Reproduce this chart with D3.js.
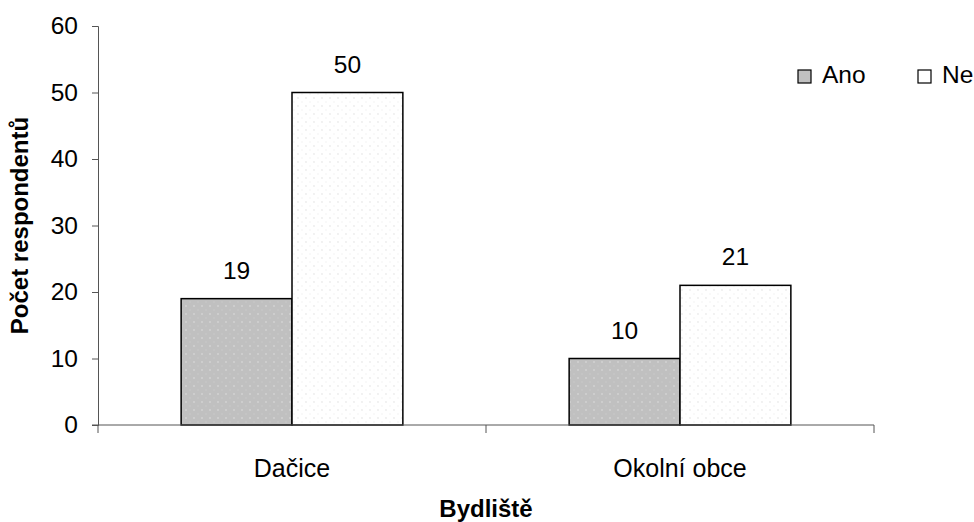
<!DOCTYPE html>
<html><head><meta charset="utf-8">
<script src="https://cdn.jsdelivr.net/npm/d3@7/dist/d3.min.js"></script>
<style>body{margin:0;background:#fff}svg{display:block}</style>
</head><body>
<script>
const categories = ["Dačice", "Okolní obce"];
const seriesNames = ["Ano", "Ne"];
const ano = [19, 10];
const ne = [50, 21];
const yTicks = [0, 10, 20, 30, 40, 50, 60];

const W = 974, H = 522;
const m = {left: 98, right: 100, top: 26, bottom: 97};
const svg = d3.select("body").append("svg").attr("width", W).attr("height", H);
const font = "'Liberation Sans', Arial, sans-serif";
const fs = 24.5;

const defs = svg.append("defs");
const p1 = defs.append("pattern").attr("id","pAno").attr("patternUnits","userSpaceOnUse").attr("width",8).attr("height",8);
p1.append("rect").attr("width",8).attr("height",8).attr("fill","#c0c0c0");
p1.append("circle").attr("cx",2).attr("cy",2).attr("r",1).attr("fill","#d2d2d2");
p1.append("circle").attr("cx",6).attr("cy",6).attr("r",0.8).attr("fill","#cacaca");
const p2 = defs.append("pattern").attr("id","pNe").attr("patternUnits","userSpaceOnUse").attr("width",8).attr("height",8);
p2.append("rect").attr("width",8).attr("height",8).attr("fill","#ffffff");
p2.append("circle").attr("cx",2).attr("cy",2).attr("r",0.9).attr("fill","#ececec");
p2.append("circle").attr("cx",6).attr("cy",6).attr("r",0.7).attr("fill","#f0f0f0");

const x = d3.scaleBand().domain(categories).range([m.left, W - m.right]);
const xs = d3.scaleBand().domain(seriesNames).range([0, x.bandwidth()]).paddingOuter(0.75).paddingInner(0);
const y = d3.scaleLinear().domain([0, 60]).range([H - m.bottom, m.top]);

const fills = {Ano: "url(#pAno)", Ne: "url(#pNe)"};
const data = [];
categories.forEach((c, i) => {
  data.push({cat: c, s: "Ano", v: ano[i]});
  data.push({cat: c, s: "Ne", v: ne[i]});
});

// bars
svg.append("g").selectAll("rect").data(data).join("rect")
  .attr("x", d => x(d.cat) + xs(d.s))
  .attr("y", d => y(d.v))
  .attr("width", xs.bandwidth())
  .attr("height", d => y(0) - y(d.v))
  .attr("fill", d => fills[d.s])
  .attr("stroke", "#000").attr("stroke-width", 1.5);

// value labels
svg.append("g").selectAll("text").data(data).join("text")
  .attr("x", d => x(d.cat) + xs(d.s) + xs.bandwidth() / 2)
  .attr("y", d => y(d.v) - 20)
  .attr("text-anchor", "middle")
  .attr("font-family", font).attr("font-size", fs)
  .text(d => d.v);

// y axis
const yAxis = svg.append("g").attr("transform", `translate(${m.left},0)`)
  .call(d3.axisLeft(y).tickValues(yTicks).tickSize(6).tickPadding(14));
yAxis.select(".domain").attr("stroke", "#555");
yAxis.selectAll(".tick line").attr("stroke", "#555");
yAxis.selectAll("text").attr("font-family", font).attr("font-size", fs).attr("fill", "#000");

// x axis
const xg = svg.append("g").attr("transform", `translate(0,${y(0)})`);
xg.append("line").attr("x1", m.left - 6).attr("x2", W - m.right).attr("y1", 0).attr("y2", 0).attr("stroke", "#555");
const bounds = [m.left, ...categories.map(c => x(c) + x.bandwidth())];
xg.selectAll(".tk").data(bounds).join("line")
  .attr("x1", d => d).attr("x2", d => d).attr("y1", 0).attr("y2", 8).attr("stroke", "#555");
xg.selectAll(".lbl").data(categories).join("text")
  .attr("x", d => x(d) + x.bandwidth() / 2)
  .attr("y", 52)
  .attr("text-anchor", "middle")
  .attr("font-family", font).attr("font-size", 25)
  .text(d => d);

// axis titles
svg.append("text").attr("x", (m.left + W - m.right) / 2).attr("y", 517)
  .attr("text-anchor", "middle").attr("font-family", font).attr("font-size", 24).attr("font-weight", "bold")
  .text("Bydliště");
svg.append("text").attr("transform", `translate(28,${(y(0)+y(60))/2}) rotate(-90)`)
  .attr("text-anchor", "middle").attr("font-family", font).attr("font-size", 24).attr("font-weight", "bold")
  .text("Počet respondentů");

// legend
const lg = svg.append("g");
const legX = [798, 918];
seriesNames.forEach((s, i) => {
  lg.append("rect").attr("x", legX[i]).attr("y", 70).attr("width", 13).attr("height", 13)
    .attr("fill", s === "Ano" ? "#c0c0c0" : "#fff").attr("stroke", "#000").attr("stroke-width", 1.2);
  lg.append("text").attr("x", legX[i] + 24).attr("y", 83)
    .attr("font-family", font).attr("font-size", fs).text(s);
});
</script>
</body></html>
